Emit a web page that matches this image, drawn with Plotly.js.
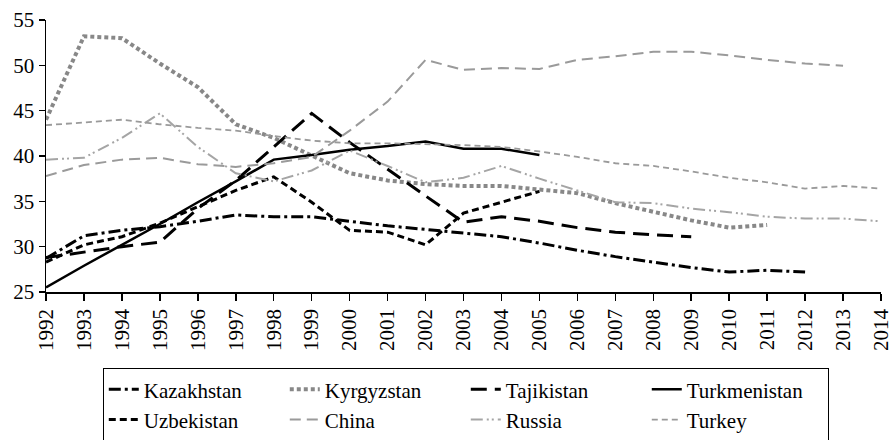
<!DOCTYPE html>
<html>
<head>
<meta charset="utf-8">
<script src="https://cdn.plot.ly/plotly-3.0.1.min.js"></script>
<style>
html,body{margin:0;padding:0;background:#fff;}
#chart{width:889px;height:440px;}
</style>
</head>
<body>
<div id="chart"></div>
<script>
var years = [1992,1993,1994,1995,1996,1997,1998,1999,2000,2001,2002,2003,2004,2005,2006,2007,2008,2009,2010,2011,2012,2013,2014];
var kazakhstan   = [28.7,31.2,31.8,32.2,32.8,33.5,33.3,33.3,32.8,32.3,31.9,31.5,31.1,30.4,29.6,28.9,28.3,27.7,27.2,27.4,27.2,null,null];
var kyrgyzstan   = [44.0,53.2,53.0,50.2,47.6,43.5,42.0,40.1,38.1,37.3,36.9,36.7,36.7,36.3,35.9,34.8,33.8,32.9,32.1,32.4,null,null,null];
var tajikistan   = [28.8,29.4,30.0,30.5,34.2,37.3,41.0,44.7,41.5,38.6,35.6,32.7,33.3,32.8,32.1,31.6,31.3,31.1,null,null,null,null,null];
var turkmenistan = [25.5,27.9,30.2,32.5,34.9,37.2,39.6,40.1,40.7,41.1,41.6,40.8,40.8,40.1,null,null,null,null,null,null,null,null,null];
var uzbekistan   = [28.3,30.2,31.1,32.6,34.4,36.2,37.7,34.9,31.8,31.6,30.2,33.7,34.9,36.1,null,null,null,null,null,null,null,null,null];
var china        = [37.8,39.0,39.6,39.8,39.1,38.8,39.2,39.9,42.8,46.0,50.6,49.5,49.7,49.6,50.6,51.0,51.5,51.5,51.1,50.6,50.2,49.95,null];
var russia       = [39.6,39.8,42.0,44.7,41.0,38.1,37.2,38.4,40.6,38.9,37.1,37.6,38.9,37.5,36.2,34.9,34.8,34.2,33.8,33.3,33.1,33.1,32.8];
var turkey       = [43.4,43.7,44.0,43.5,43.1,42.8,42.2,41.7,41.4,41.4,41.3,41.2,41.0,40.5,39.9,39.2,38.9,38.3,37.6,37.1,36.4,36.7,36.4];

function tr(name, y, color, width, dash) {
  return {x: years, y: y, name: name, type: 'scatter', mode: 'lines',
          line: {color: color, width: width, dash: dash}, connectgaps: false};
}
var data = [
  tr('Kazakhstan', kazakhstan, '#000000', 3, '12px,4px,3px,4px'),
  tr('Kyrgyzstan', kyrgyzstan, '#888888', 4, '4px,3px'),
  tr('Tajikistan', tajikistan, '#000000', 3, '16px,8px'),
  tr('Turkmenistan', turkmenistan, '#000000', 2.5, 'solid'),
  tr('Uzbekistan', uzbekistan, '#000000', 3, '7px,4px'),
  tr('China', china, '#9a9a9a', 2, '11px,6px'),
  tr('Russia', russia, '#a5a5a5', 2, '12px,4px,2px,3px,2px,4px'),
  tr('Turkey', turkey, '#9a9a9a', 1.8, '6px,4px')
];
var fontFam = "Liberation Serif";
var layout = {
  width: 889, height: 440,
  margin: {l: 46, r: 8, t: 20, b: 148, autoexpand: false},
  paper_bgcolor: '#ffffff', plot_bgcolor: '#ffffff',
  font: {family: fontFam, size: 21, color: '#000'},
  showlegend: true,
  xaxis: {
    range: [1992, 2014], tickmode: 'array', tickvals: years, ticktext: years.map(String),
    tickangle: -90, ticks: 'outside', ticklen: 7, tickwidth: 1.5, tickcolor: '#000',
    ticklabeloverflow: 'allow', automargin: false,
    showline: true, linecolor: '#000', linewidth: 1.5, showgrid: false, zeroline: false,
    tickfont: {family: fontFam, size: 21, color: '#000'}
  },
  yaxis: {
    range: [25, 55], dtick: 5, ticks: 'outside', ticklen: 6, tickwidth: 1.5, tickcolor: '#000',
    showline: true, linecolor: '#000', linewidth: 1.5, showgrid: false, zeroline: false, automargin: false,
    tickfont: {family: fontFam, size: 21, color: '#000'}
  },
  legend: {
    orientation: 'h', x: 0.068, y: -0.28, xanchor: 'left', yanchor: 'top',
    bordercolor: '#000', borderwidth: 1, bgcolor: '#fff',
    entrywidth: 136, entrywidthmode: 'pixels', tracegroupgap: 0,
    font: {family: fontFam, size: 21, color: '#000'}
  }
};
Plotly.newPlot('chart', data, layout, {displayModeBar: false, staticPlot: true});
</script>
</body>
</html>
